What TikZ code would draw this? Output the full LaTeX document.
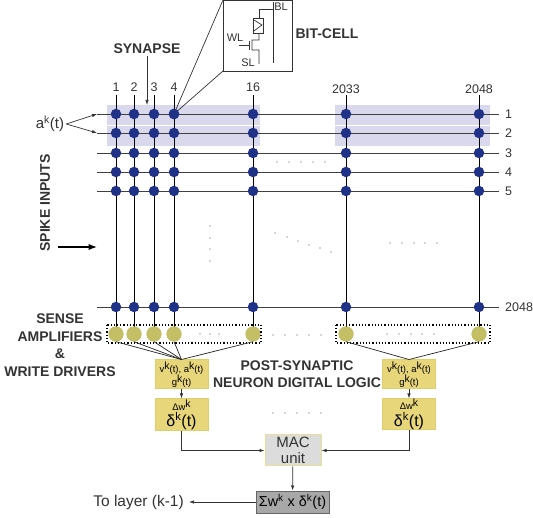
\documentclass[tikz,border=0pt]{standalone}
\usepackage{fontspec}
\setmainfont{Liberation Sans}
\usepackage{xcolor}
\usetikzlibrary{arrows.meta,positioning,calc}
\definecolor{CellBlue}{HTML}{1F3287}
\definecolor{CellShade}{HTML}{D9D8EC}
\definecolor{AmpOlive}{HTML}{C4BE64}
\definecolor{LogicGold}{HTML}{E8D67A}
\definecolor{LogicEdge}{HTML}{DDD06C}
\definecolor{MacGrey}{HTML}{DCDCDC}
\definecolor{SumGrey}{HTML}{A8A8A8}
\definecolor{InkGrey}{HTML}{333333}
\newcommand{\kup}{\raisebox{3pt}{\fontsize{10.5}{12}\selectfont k}}
\begin{document}
\begin{tikzpicture}[x=1pt, y=-1pt, font=\fontsize{12.5}{15}\selectfont, text=InkGrey, >=Latex,
  synapse/.style={circle, fill=CellBlue, minimum size=10.5pt, inner sep=0pt},
  amp/.style={circle, fill=AmpOlive, minimum size=15pt, inner sep=0pt},
  title/.style={font=\fontsize{14}{17}\selectfont\bfseries, align=center, inner sep=0pt},
  logic/.style={draw=LogicEdge, line width=1pt, fill=LogicGold, text=black, align=center, inner sep=0pt, minimum width=53pt},
  tiny/.style={circle, fill=black!70, minimum size=1.2pt, inner sep=0pt},
  word/.style={line width=0.9pt, black!75},
  bitl/.style={line width=0.8pt, black},
  arr/.style={->, line width=0.7pt, black!80, >={Latex[length=5pt,width=3.5pt]}},
  ampbox/.style={draw, dotted, line width=1.2pt, black}]
\useasboundingbox (0,0) rectangle (533,518);
% shaded rows
\fill[CellShade] (107,105) rectangle (260,125);
\fill[CellShade] (107,126) rectangle (260,146);
\fill[CellShade] (335,105) rectangle (490,125);
\fill[CellShade] (335,126) rectangle (490,146);
% word lines
\foreach \r/\y/\lab in {1/114/1,2/133/2,3/153/3,4/172/4,5/191/5,6/307/2048}{
  \coordinate (rowl\r) at (97,\y);
  \coordinate (rowr\r) at (499,\y);
  \node[anchor=west, inner sep=0pt] (rowlab\r) at (505,\y) {\lab};
  \draw[word] (rowl\r) -- (rowr\r);
}
% bit lines
\foreach \c/\x/\lab/\ly in {1/116/1/87,2/134/2/87,3/154/3/87,4/174/4/87,5/253/16/87,6/346/2033/89,7/479/2048/89}{
  \coordinate (colt\c) at (\x,95);
  \node[inner sep=0pt] (collab\c) at (\x,\ly) {\lab};
  \node[amp] (amp\c) at (\x,334) {};
  \draw[bitl] (colt\c) -- (amp\c.center);
  \foreach \r/\y in {1/114,2/133,3/153,4/172,5/191,6/307}{
    \node[synapse] (syn\r\c) at (\x,\y) {};
  }
  \node[amp] at (amp\c) {};
}
% amplifier groups
\draw[ampbox] (107,325) rectangle (261,343);
\draw[ampbox] (336,325) rectangle (490,343);
% bit cell
\draw[line width=0.8pt, black!80, fill=white] (223,0) rectangle (292,71);
\coordinate (cellnw) at (223,0);
\coordinate (cellsw) at (223,71);
\draw[line width=0.7pt, black!80] (syn14.center) -- (cellnw);
\draw[line width=0.7pt, black!80] (syn14.center) -- (cellsw);
\node[synapse] at (syn14) {};
\draw[line width=0.7pt, black!80] (273,2) -- (273,63);
\draw[line width=0.7pt, black!80] (273,9) -- (259,9) -- (259,18);
\draw[line width=0.7pt, black!80] (253,18) rectangle (263,33);
\draw[line width=0.7pt, black!80] (254,20) -- (262,25) -- (254,31) (259,33) -- (259,40) -- (252,40) -- (252,50) -- (259,50) -- (259,64);
\draw[line width=0.7pt, black!80] (239,45) -- (249,45) (249,41) -- (249,50);
\node[inner sep=0pt, font=\fontsize{11}{13}\selectfont] (blab) at (281,7) {BL};
\node[inner sep=0pt, font=\fontsize{11}{13}\selectfont] (wlab) at (235,38) {WL};
\node[inner sep=0pt, font=\fontsize{11}{13}\selectfont] (slab) at (248,63) {SL};
\node[title] (celltitle) at (327,34) {BIT-CELL};
% left side
\node[title] (syntitle) at (147,49) {SYNAPSE};
\coordinate (synend) at (147,105);
\draw[arr] (syntitle.south) ++(0,2) -- (synend);
\node[font=\fontsize{15}{17}\selectfont, inner sep=0pt] (akt) at (50,124) {a\textsuperscript{k}(t)};
\draw[arr] (akt.east) ++(2,0) -- (rowl1);
\draw[arr] (akt.east) ++(2,0) -- (rowl2);
\node[title, rotate=90] (spike) at (45,203) {SPIKE INPUTS};
\coordinate (inl) at (58,247);
\coordinate (inr) at (97,247);
\draw[->, line width=1.2pt, black] (inl) -- (inr);
\node[title] (amptitle) at (60,345) {SENSE\\[0.5pt]AMPLIFIERS\\[0.5pt]\&\\[0.5pt]WRITE DRIVERS};
% logic blocks
\node[logic, minimum height=29pt, font=\fontsize{9.5}{12.5}\selectfont] (statel) at (181.5,374.5) {v\kup(t), a\kup(t)\\g\kup(t)};
\node[logic, minimum height=32pt, font=\fontsize{9.5}{11}\selectfont] (deltal) at (181.5,415) {Δw\kup\\[1pt]{\fontsize{16}{16}\selectfont δ\textsuperscript{k}(t)}};
\node[logic, minimum height=29pt, font=\fontsize{9.5}{12.5}\selectfont] (stater) at (409,374.5) {v\kup(t), a\kup(t)\\g\kup(t)};
\node[logic, minimum height=31pt, font=\fontsize{9.5}{11}\selectfont] (deltar) at (409,414.5) {Δw\kup\\[1pt]{\fontsize{16}{16}\selectfont δ\textsuperscript{k}(t)}};
\foreach \c in {1,2,3,4,5}{
  \draw[line width=0.7pt, black!85] (amp\c.south) -- (statel.north);
}
\foreach \c in {6,7}{
  \draw[line width=0.7pt, black!85] (amp\c.south) -- (stater.north);
}
\draw[arr] (statel) -- (deltal);
\draw[arr] (stater) -- (deltar);
\node[title] (posttitle) at (297,374) {POST-SYNAPTIC\\[0.5pt]NEURON DIGITAL LOGIC};
% MAC and output
\node[draw=LogicEdge!70, line width=1pt, fill=MacGrey, minimum width=56pt, minimum height=31pt, align=center, inner sep=0pt, font=\fontsize{15}{15.5}\selectfont] (mac) at (293,450.5) {MAC\\unit};
\node[draw=black!60, line width=1pt, fill=SumGrey, text=black, minimum width=73pt, minimum height=22pt, inner sep=0pt, font=\fontsize{14.4}{16}\selectfont] (sum) at (292.5,502) {Σw\textsuperscript{k} x δ\textsuperscript{k}(t)};
\node[anchor=east, inner sep=0pt, font=\fontsize{15.5}{17}\selectfont] (layer) at (184,502) {To layer (k-1)};
\draw[arr] (deltal.south) |- (mac.west);
\draw[arr] (deltar.south) |- (mac.east);
\draw[arr] (mac) -- (sum);
\draw[arr, shorten >=5pt] (sum) -- (layer);
% ellipsis dots
\foreach \x in {277,289,301,313,325}{\node[tiny] at (\x,162) {};}
\foreach \y in {226,238,249,261}{\node[tiny] at (210,\y) {};}
\foreach \x/\y in {275/233,287/237,298/241,309/245,320/248,331/252}{\node[tiny] at (\x,\y) {};}
\foreach \x in {390,402,414,425,437}{\node[tiny] at (\x,243) {};}
\foreach \x in {200,210,219}{\node[tiny] at (\x,334) {};}
\foreach \x in {273,285,297,309,321}{\node[tiny] at (\x,335) {};}
\foreach \x in {387,399,411,422,434}{\node[tiny] at (\x,334) {};}
\foreach \x in {273,285,297,309,321}{\node[tiny] at (\x,413) {};}
\end{tikzpicture}
\end{document}
